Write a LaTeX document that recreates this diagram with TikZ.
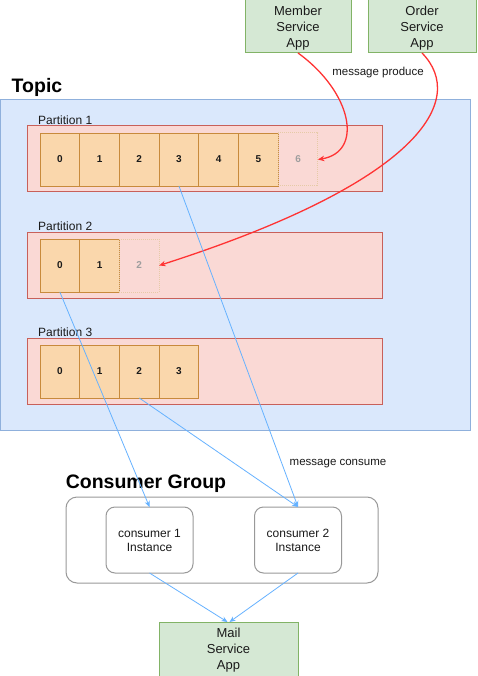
\documentclass[tikz,border=0pt]{standalone}
\usepackage{fontspec}
\setmainfont{Liberation Sans}
\usetikzlibrary{arrows.meta}
\definecolor{gfill}{HTML}{D5E8D4}\definecolor{gdraw}{HTML}{82B366}
\definecolor{bfill}{HTML}{DAE8FC}\definecolor{bdraw}{HTML}{8FB0DC}
\definecolor{rfill}{HTML}{FAD9D5}\definecolor{rdraw}{HTML}{C8605A}
\definecolor{ofill}{HTML}{FAD7AC}\definecolor{odraw}{HTML}{C88A3C}
\definecolor{greyd}{HTML}{999999}
\definecolor{blueline}{HTML}{66B2FF}
\definecolor{redline}{HTML}{FF3333}
\definecolor{txt}{HTML}{1A1A1A}
\tikzset{
  app/.style={draw=gdraw,fill=gfill,line width=1pt,inner sep=0pt,outer sep=0pt},
  apptext/.style={inner sep=0pt,align=center,font=\fontsize{13}{16}\selectfont,text=txt},
  topicbox/.style={draw=bdraw,fill=bfill,line width=1pt,inner sep=0pt,outer sep=0pt},
  partbox/.style={draw=rdraw,fill=rfill,line width=1pt,inner sep=0pt,outer sep=0pt,minimum width=355pt,minimum height=66pt},
  cell/.style={draw=odraw,fill=ofill,line width=0.9pt,inner sep=0pt,outer sep=0pt,minimum width=39.7pt,minimum height=53pt,font=\fontsize{10}{12}\selectfont\bfseries,text=txt},
  ghost/.style={draw=odraw!45,densely dotted,line width=1pt,inner sep=0pt,outer sep=0pt,minimum width=39.7pt,minimum height=53pt,font=\fontsize{10}{12}\selectfont\bfseries,text=black!38},
  plabel/.style={anchor=west,inner sep=0pt,font=\fontsize{12}{14}\selectfont,text=txt},
  title/.style={inner sep=0pt,font=\fontsize{19.5}{22}\selectfont\bfseries,text=black},
  grp/.style={draw=greyd,line width=1pt,rounded corners=11pt,inner sep=0pt,outer sep=0pt},
  cons/.style={draw=greyd,line width=1pt,rounded corners=9pt,inner sep=0pt,outer sep=0pt,minimum width=87pt,minimum height=66pt,align=center,font=\fontsize{12}{14}\selectfont,text=txt},
  note/.style={inner sep=0pt,font=\fontsize{11.5}{14}\selectfont,text=txt},
  blue/.style={draw=blueline,line width=0.8pt,-{Stealth[length=6pt,width=5pt]}},
  red/.style={draw=redline,line width=1.3pt,-{Stealth[length=6.5pt,width=5.5pt]}}
}
\begin{document}
\begin{tikzpicture}[x=1pt,y=-1pt]
\useasboundingbox (0,0) rectangle (477,676);
\fill[white] (0,0) rectangle (477,676);
% apps
\node[app,minimum width=106pt,minimum height=53pt] (member) at (298,26.5) {};
\node[apptext] (membert) at ([yshift=-2pt]member.center) {Member\\Service\\App};
\node[app,minimum width=108pt,minimum height=53pt] (order) at (422,26.5) {};
\node[apptext] (ordert) at ([yshift=-2pt]order.center) {Order\\Service\\App};
\node[note] (produce) at (378,73) {message produce};
% topic
\node[title,anchor=west] (topiclbl) at (11.5,87) {Topic};
\node[topicbox,minimum width=469.5pt,minimum height=330pt] (topic) at (235.25,265) {};
% partitions
\node[partbox] (p1) at (204.5,159) {};
\node[partbox] (p2) at (204.5,265) {};
\node[partbox] (p3) at (204.5,371) {};
\node[plabel] (p1l) at (38,120) {Partition 1};
\node[plabel] (p2l) at (38,226) {Partition 2};
\node[plabel] (p3l) at (38,332) {Partition 3};
\foreach \i in {0,...,5} {\node[cell] (p1c\i) at ({40+39.7*(\i+0.5)},159.5) {\i};}
\node[ghost] (p1c6) at ({40+39.7*6.5},159.5) {6};
\foreach \i in {0,1} {\node[cell] (p2c\i) at ({40+39.7*(\i+0.5)},265.5) {\i};}
\node[ghost] (p2c2) at ({40+39.7*2.5},265.5) {2};
\foreach \i in {0,...,3} {\node[cell] (p3c\i) at ({40+39.7*(\i+0.5)},371.5) {\i};}
% consumer group
\node[note] (consume) at (338,464) {message consume};
\node[title] (cglbl) at (146,484) {Consumer Group};
\node[grp,minimum width=312pt,minimum height=86pt] (cg) at (222,540) {};
\node[cons] (c1) at (149.5,540) {consumer 1\\Instance};
\node[cons] (c2) at (298,540) {consumer 2\\Instance};
\node[app,minimum width=139pt,minimum height=54pt] (mail) at (228.5,649) {};
\node[apptext] (mailt) at ([yshift=-1pt]mail.center) {Mail\\Service\\App};
% produce arrows
\draw[red] (member.south) .. controls (352,92) and (364,152) .. (p1c6.east);
\draw[red] (order.south) .. controls (468,100) and (420,182) .. (p2c2.east);
% consume arrows
\draw[blue] (p1c3.south) -- (c2.north);
\draw[blue] (p2c0.south) -- (c1.north);
\draw[blue] (p3c2.south) -- (c2.north);
\draw[blue] (c1.south) -- ([xshift=-1pt]mail.north);
\draw[blue] (c2.south) -- ([xshift=1pt]mail.north);
\end{tikzpicture}
\end{document}
